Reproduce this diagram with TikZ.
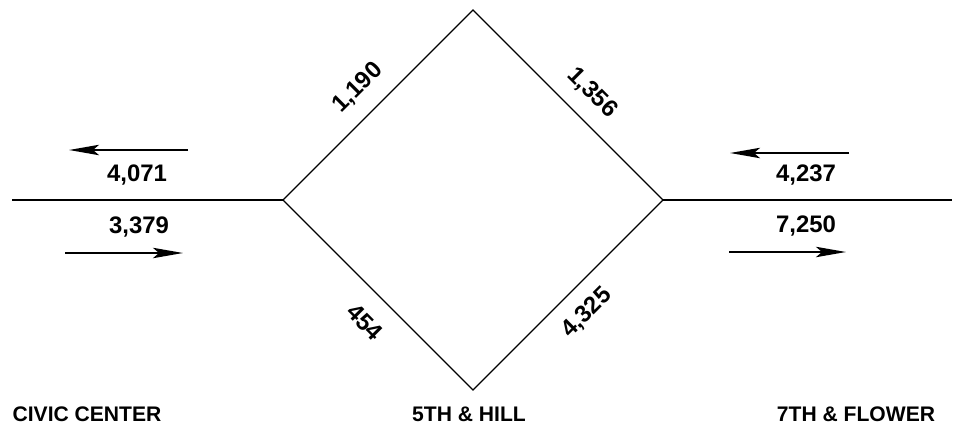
\documentclass[tikz,border=0pt]{standalone}
\usepackage{fontspec}
\setmainfont{Liberation Sans}
\usetikzlibrary{arrows.meta,positioning}

\begin{document}
\begin{tikzpicture}[
  x=0.25mm, y=-0.25mm,
  road/.style={line width=0.9pt},
  flow/.style={font=\fontsize{17}{20}\selectfont\bfseries, inner sep=1pt},
  station/.style={font=\fontsize{15}{18}\selectfont\bfseries, inner sep=1pt},
  dirarrow/.style={-{Stealth[length=7.5mm, width=2.6mm, inset=1.5mm]}, line width=1.6pt}
]
  \useasboundingbox (0,0) rectangle (964,443);

  % Road network
  \coordinate (west) at (12,200);
  \coordinate (left) at (283,200);
  \coordinate (top) at (473,10);
  \coordinate (right) at (663,200);
  \coordinate (bottom) at (473,390);
  \coordinate (east) at (952,200);

  \draw[road] (west) -- (left);
  \draw[road] (left) -- (top) -- (right) -- (bottom) -- cycle;
  \draw[road] (right) -- (east);

  % Diamond flows
  \node[flow, rotate=45] (lefttop) at (358,88) {1,190};
  \node[flow, rotate=-45] (righttop) at (592,93) {1,356};
  \node[flow, rotate=-45] (leftbot) at (365,322) {454};
  \node[flow, rotate=45] (rightbot) at (587,313) {4,325};

  % West side
  \node[flow] (westout) at (137,175) {4,071};
  \node[flow] (westin) at (139,227) {3,379};
  \coordinate (wa1) at (188,150);
  \coordinate (wa2) at (69,150);
  \coordinate (wb1) at (65,253);
  \coordinate (wb2) at (183,253);
  \draw[dirarrow] (wa1) -- (wa2);
  \draw[dirarrow] (wb1) -- (wb2);

  % East side
  \node[flow] (eastout) at (806,175) {4,237};
  \node[flow] (eastin) at (806,226) {7,250};
  \coordinate (ea1) at (849,153);
  \coordinate (ea2) at (730,153);
  \coordinate (eb1) at (729,252);
  \coordinate (eb2) at (846,252);
  \draw[dirarrow] (ea1) -- (ea2);
  \draw[dirarrow] (eb1) -- (eb2);

  % Stations
  \node[station] (civic) at (87,414) {CIVIC CENTER};
  \node[station] (hill) at (469,414) {5TH \& HILL};
  \node[station] (flower) at (856,414) {7TH \& FLOWER};
\end{tikzpicture}
\end{document}
